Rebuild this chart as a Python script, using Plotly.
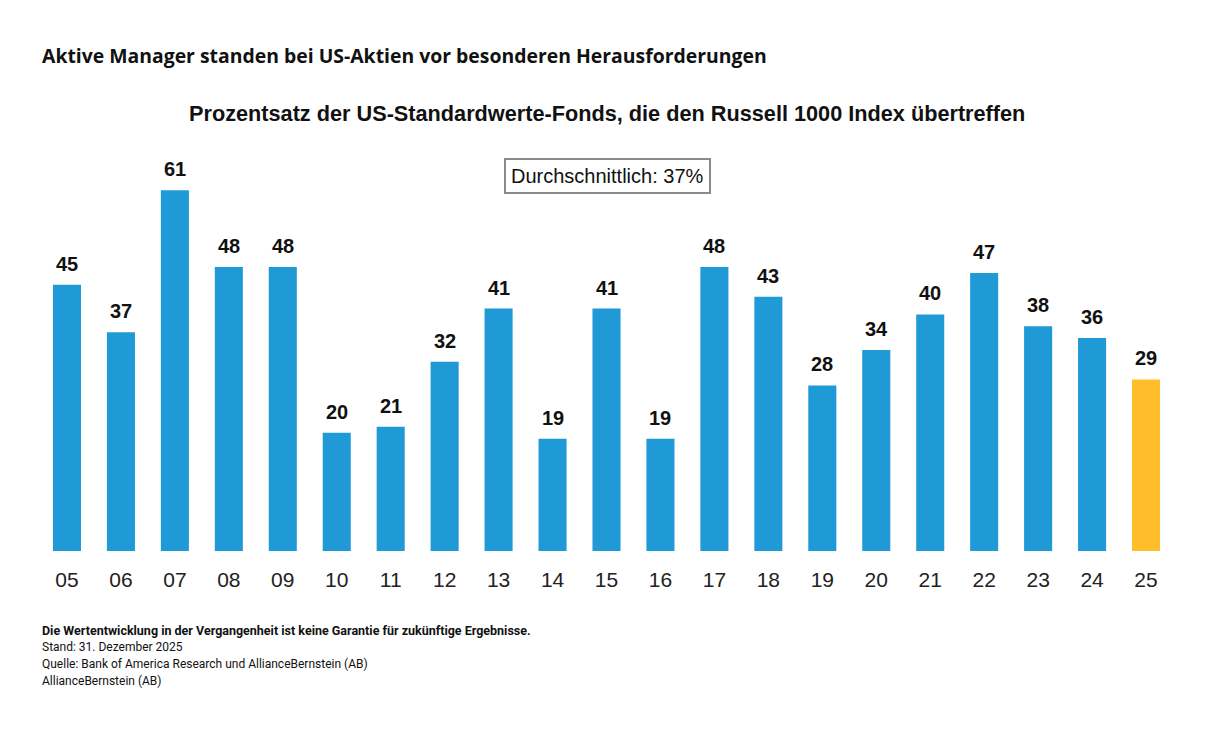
import plotly.graph_objects as go

years = ["05", "06", "07", "08", "09", "10", "11", "12", "13", "14", "15",
         "16", "17", "18", "19", "20", "21", "22", "23", "24", "25"]
values = [45, 37, 61, 48, 48, 20, 21, 32, 41, 19, 41, 19, 48, 43, 28, 34, 40, 47, 38, 36, 29]
highlight_year = "25"
blue = "#1F9AD6"
yellow = "#FFBE2A"
colors = [yellow if y == highlight_year else blue for y in years]

title_text = "Aktive Manager standen bei US-Aktien vor besonderen Herausforderungen"
subtitle_text = "Prozentsatz der US-Standardwerte-Fonds, die den Russell 1000 Index übertreffen"
avg_text = "Durchschnittlich: 37%"
notes = [
    "Die Wertentwicklung in der Vergangenheit ist keine Garantie für zukünftige Ergebnisse.",
    "Stand: 31. Dezember 2025",
    "Quelle: Bank of America Research und AllianceBernstein (AB)",
    "AllianceBernstein (AB)",
]

W, H = 1214, 749
ML, MR, MT, MB = 40, 41, 137, 198
plot_w = W - ML - MR
plot_h = H - MT - MB


def px_x(x):
    return (x - ML) / plot_w


def px_y(y):
    return (H - MB - y) / plot_h


fig = go.Figure()
fig.add_trace(go.Bar(
    x=years, y=values, marker=dict(color=colors, line=dict(width=0)),
    hoverinfo="skip",
))

# value labels above bars
for i, v in enumerate(values):
    fig.add_annotation(x=i, y=v, xref="x", yref="y", text="<b>%d</b>" % v,
                       showarrow=False, xanchor="center", yanchor="bottom", yshift=8,
                       font=dict(family="Liberation Sans, Arial", size=20, color="#111111"))

fig.update_layout(
    width=W, height=H,
    margin=dict(l=ML, r=MR, t=MT, b=MB),
    paper_bgcolor="white", plot_bgcolor="white",
    bargap=0.48, showlegend=False,
    xaxis=dict(type="category", categoryorder="array", categoryarray=years,
               showgrid=False, zeroline=False, showline=False,
               ticks="outside", ticklen=10, tickcolor="rgba(0,0,0,0)",
               tickfont=dict(family="Liberation Sans, Arial", size=21, color="#222222")),
    yaxis=dict(range=[0, 70], visible=False),
)

fig.add_annotation(xref="paper", yref="paper", x=px_x(40), y=px_y(55),
                   text="<b>" + title_text + "</b>", showarrow=False,
                   xanchor="left", yanchor="middle",
                   font=dict(family="Open Sans", size=19.4, color="#111111"))
fig.add_annotation(xref="paper", yref="paper", x=px_x(607), y=px_y(114),
                   text="<b>" + subtitle_text + "</b>", showarrow=False,
                   xanchor="center", yanchor="middle",
                   font=dict(family="Liberation Sans, Arial", size=21.7, color="#111111"))
fig.add_annotation(xref="paper", yref="paper", x=px_x(607), y=px_y(175.5),
                   text=avg_text, showarrow=False,
                   xanchor="center", yanchor="middle",
                   bordercolor="#8a8a8a", borderwidth=2, borderpad=5, bgcolor="white",
                   font=dict(family="Liberation Sans, Arial", size=20, color="#111111"))
for i, line in enumerate(notes):
    txt = "<b>" + line + "</b>" if i == 0 else line
    fig.add_annotation(xref="paper", yref="paper", x=px_x(40), y=px_y(630 + 17 * i),
                       text=txt, showarrow=False, xanchor="left", yanchor="middle",
                       font=dict(family="Roboto", size=12.5 if i == 0 else 12, color="#111111"))

fig.write_html("out.html")
